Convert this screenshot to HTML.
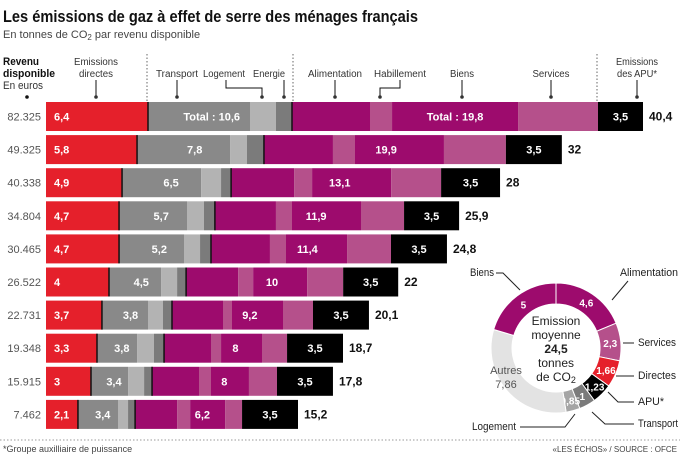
<!DOCTYPE html>
<html><head><meta charset="utf-8"><style>
body{margin:0;background:#fff;}
svg{display:block;font-family:"Liberation Sans",Arial,sans-serif;}
</style></head><body>
<svg id="c" width="680" height="455" viewBox="0 0 680 455">
<text x="3" y="22" font-size="17" font-weight="bold" fill="#111" textLength="415" lengthAdjust="spacingAndGlyphs">Les émissions de gaz à effet de serre des ménages français</text>
<text x="3" y="38" font-size="11" fill="#444">En tonnes de CO<tspan font-size="8" dy="2">2</tspan><tspan dy="-2"> par revenu disponible</tspan></text>
<g font-size="10" fill="#333">
<text x="3" y="65" font-weight="bold" font-size="11" fill="#111" textLength="36" lengthAdjust="spacingAndGlyphs">Revenu</text>
<text x="3" y="77" font-weight="bold" font-size="11" fill="#111" textLength="52" lengthAdjust="spacingAndGlyphs">disponible</text>
<text x="3" y="89" font-size="11" textLength="40" lengthAdjust="spacingAndGlyphs">En euros</text>
<circle cx="27" cy="97" r="1.8" fill="#111"/>
<text x="96" y="65" text-anchor="middle" textLength="44" lengthAdjust="spacingAndGlyphs">Emissions</text><text x="96" y="77" text-anchor="middle" textLength="34" lengthAdjust="spacingAndGlyphs">directes</text>
<line x1="96" y1="80" x2="96" y2="97" stroke="#111"/><circle cx="96" cy="97" r="1.8"/>
<text x="177" y="77" text-anchor="middle" textLength="42" lengthAdjust="spacingAndGlyphs">Transport</text>
<line x1="177" y1="80" x2="177" y2="97" stroke="#111"/><circle cx="177" cy="97" r="1.8"/>
<text x="224" y="77" text-anchor="middle" textLength="42" lengthAdjust="spacingAndGlyphs">Logement</text>
<polyline points="226,80 226,88 262,88 262,97" fill="none" stroke="#111"/><circle cx="262" cy="97" r="1.8"/>
<text x="269" y="77" text-anchor="middle" textLength="32" lengthAdjust="spacingAndGlyphs">Energie</text>
<line x1="284" y1="80" x2="284" y2="97" stroke="#111"/><circle cx="284" cy="97" r="1.8"/>
<text x="335" y="77" text-anchor="middle" textLength="54" lengthAdjust="spacingAndGlyphs">Alimentation</text>
<line x1="335" y1="80" x2="335" y2="97" stroke="#111"/><circle cx="335" cy="97" r="1.8"/>
<text x="400" y="77" text-anchor="middle" textLength="52" lengthAdjust="spacingAndGlyphs">Habillement</text>
<polyline points="400,80 400,88 380,88 380,97" fill="none" stroke="#111"/><circle cx="380" cy="97" r="1.8"/>
<text x="462" y="77" text-anchor="middle" textLength="24" lengthAdjust="spacingAndGlyphs">Biens</text>
<line x1="462" y1="80" x2="462" y2="97" stroke="#111"/><circle cx="462" cy="97" r="1.8"/>
<text x="551" y="77" text-anchor="middle" textLength="37" lengthAdjust="spacingAndGlyphs">Services</text>
<line x1="551" y1="80" x2="551" y2="97" stroke="#111"/><circle cx="551" cy="97" r="1.8"/>
<text x="637" y="65" text-anchor="middle" textLength="42" lengthAdjust="spacingAndGlyphs">Emissions</text><text x="637" y="77" text-anchor="middle" textLength="40" lengthAdjust="spacingAndGlyphs">des APU*</text>
<line x1="637" y1="80" x2="637" y2="97" stroke="#111"/><circle cx="637" cy="97" r="1.8"/>
<g stroke="#666" stroke-dasharray="1.5,2"><line x1="147" y1="54" x2="147" y2="101"/><line x1="293" y1="54" x2="293" y2="101"/><line x1="597" y1="54" x2="597" y2="101"/></g>
</g>
<g id="bars"></g>
<g id="donut"></g>
<line x1="0" y1="440" x2="680" y2="440" stroke="#999" stroke-dasharray="1.5,2"/>
<text x="3" y="452" font-size="9" fill="#444">*Groupe auxilliaire de puissance</text>
<text x="677" y="452" font-size="8" fill="#444" text-anchor="end">«LES ÉCHOS» / SOURCE : OFCE</text>
</svg>
<script>
const incomes=["82.325","49.325","40.338","34.804","30.465","26.522","22.731","19.348","15.915","7.462"];
const directes=[6.8,6.07,5.07,4.87,4.87,4.2,3.73,3.4,3,2.13];
const transport=[6.8,6.2,5.27,4.53,4.33,3.47,3.07,2.67,2.47,2.67];
const logement=[1.73,1.13,1.33,1.13,1.07,1.07,1,1.13,1.07,0.67];
const energie=[1.07,1.13,0.67,0.73,0.73,0.6,0.6,0.67,0.53,0.47];
const alimentation=[5.2,4.6,4.2,4.07,3.93,3.47,3.4,3.13,3.13,2.8];
const habillement=[1.47,1.47,1.2,1.07,1.07,1,0.6,0.67,0.8,0.87];
const biens=[8.4,5.93,5.27,4.6,4.07,3.6,3.4,2.73,2.53,2.33];
const services=[5.33,4.13,3.33,2.87,2.93,2.4,2,1.67,1.87,1.13];
const apu=[3.0,3.73,3.93,3.67,3.73,3.67,3.73,3.73,3.73,3.73];
const labDirect=["6,4","5,8","4,9","4,7","4,7","4","3,7","3,3","3","2,1"];
const labTransport=["Total : 10,6","7,8","6,5","5,7","5,2","4,5","3,8","3,8","3,4","3,4"];
const labBiens=["Total : 19,8","19,9","13,1","11,9","11,4","10","9,2","8","8","6,2"];
const labApu=["3,5","3,5","3,5","3,5","3,5","3,5","3,5","3,5","3,5","3,5"];
const labTotal=["40,4","32","28","25,9","24,8","22","20,1","18,7","17,8","15,2"];
const donutNames=["Alimentation","Services","Directes","APU*","Transport","Logement","Autres","Biens"];
const donutValues=[4.6,2.3,1.66,1.23,1,0.85,7.86,5];
const donutLabels=["4,6","2,3","1,66","1,23","1","0,85","","5"];

const NS="http://www.w3.org/2000/svg";
function mk(tag,attrs,parent,txt){const e=document.createElementNS(NS,tag);for(const k in attrs)e.setAttribute(k,attrs[k]);if(txt!==undefined)e.textContent=txt;parent.appendChild(e);return e;}
const x0=46, unit=15, rowTop=i=>102+i*33.1, bh=29;
const xs=v=>v*unit;
const segs=[directes,transport,logement,energie,alimentation,habillement,biens,services,apu];
const segNames=["directes","transport","logement","energie","alimentation","habillement","biens","services","apu"];
const cols=["#e5202b","#898989","#b3b3b3","#7b7b7b","#9d0b6d","#b5508b","#9d0b6d","#b5508b","#000"];
const bars=document.getElementById('bars');
for(let i=0;i<incomes.length;i++){
  const g=mk('g',{},bars);
  
  
  const y=rowTop(i);
  const t=mk('text',{x:41,y:y+bh/2+4,'font-size':11,fill:'#555','text-anchor':'end'},g,incomes[i]);
  
  
  let x=x0; const starts=[];
  for(let s=0;s<segs.length;s++){
    const w=xs(segs[s][i]); starts.push(x);
    const r=mk('rect',{x:x,y:y,width:w,height:bh,fill:cols[s]},g);
    
    
    x+=w;
  }
  [starts[1],starts[4]].forEach(sx=>{const l=mk('line',{x1:sx,y1:y,x2:sx,y2:y+bh,stroke:'#111','stroke-width':1.5},g);
    
    });
  const ty=y+bh/2+4;
  const a=mk('text',{x:x0+8,y:ty,'font-size':11,'font-weight':'bold',fill:'#fff'},g,labDirect[i]);
  
  
  const tw=xs(transport[i]);
  const b= i===0 ? mk('text',{x:starts[1]+tw-10,y:ty,'font-size':11,'font-weight':'bold',fill:'#fff','text-anchor':'end'},g,labTransport[i])
                 : mk('text',{x:starts[1]+tw*0.62,y:ty,'font-size':11,'font-weight':'bold',fill:'#fff','text-anchor':'middle'},g,labTransport[i]);
  
  
  const bw=xs(biens[i]);
  const c=mk('text',{x: i===0?starts[6]+bw/2:starts[6]+bw*0.35,y:ty,'font-size':11,'font-weight':'bold',fill:'#fff','text-anchor':'middle'},g,labBiens[i]);
  
  
  const d=mk('text',{x:starts[8]+xs(apu[i])/2,y:ty,'font-size':11,'font-weight':'bold',fill:'#fff','text-anchor':'middle'},g,labApu[i]);
  
  
  const e=mk('text',{x:x+6,y:ty,'font-size':12,'font-weight':'bold',fill:'#111'},g,labTotal[i]);
  
  
}
// donut
const dg=document.getElementById('donut');


const cx=556,cy=348,R=65,r=44;
const dcols=["#9d0b6d","#b5508b","#e5202b","#000","#7b7b7b","#a5a5a5","#e3e3e3","#9d0b6d"];
const tot=donutValues.reduce((a,b)=>a+b,0);
const pt=(ang,rad)=>[cx+rad*Math.sin(ang),cy-rad*Math.cos(ang)];
let ang=0;
for(let k=0;k<donutValues.length;k++){
  const a1=ang,a2=ang+donutValues[k]/tot*2*Math.PI; ang=a2;
  const large=(a2-a1)>Math.PI?1:0;
  const p1=pt(a1,R),p2=pt(a2,R),p3=pt(a2,r),p4=pt(a1,r);
  const p=mk('path',{d:`M${p1} A${R},${R} 0 ${large} 1 ${p2} L${p3} A${r},${r} 0 ${large} 0 ${p4}Z`,fill:dcols[k],stroke:'#fff','stroke-width':1},dg);
  
  
  const m=(a1+a2)/2, lp=pt(m,(R+r)/2);
  const lbl=donutLabels[k];
  if(lbl){const t=mk('text',{x:lp[0],y:lp[1]+4,'font-size':10,'font-weight':'bold',fill:'#fff','text-anchor':'middle'},dg,lbl);
    
    }
}
const ct=[["Emission",325,false],["moyenne",339,false],["24,5",353,true],["tonnes",367,false]];
ct.forEach(c=>{const t=mk('text',{x:cx,y:c[1],'font-size':12,'font-weight':c[2]?'bold':'normal',fill:'#222','text-anchor':'middle'},dg,c[0]);
  
  });
const co=mk('text',{x:cx,y:381,'font-size':12,fill:'#222','text-anchor':'middle'},dg,'de CO');


mk('tspan',{'font-size':9,dy:2},co,'2');
const callouts=[["Biens",470,276,"start",24,"496,273 503,273 520,290"],["Alimentation",678,276,"end",58,"628,281 612,300"],["Services",638,346,"start",38,"623,343 634,343"],["Directes",638,379,"start",38,"616,376 634,376"],["APU*",638,405,"start",26,"608,392 618,402 634,402"],["Transport",638,427,"start",40,"592,412 605,424 634,424"],["Logement",472,430,"start",44,"520,427 565,427 575,414"]];
callouts.forEach(c=>{
  const t=mk('text',{x:c[1],y:c[2],'font-size':11,fill:'#222','text-anchor':c[3],textLength:c[4],lengthAdjust:'spacingAndGlyphs'},dg,c[0]);
  
  
  const l=mk('polyline',{points:c[5],fill:'none',stroke:'#222','stroke-width':1},dg);
  
  
});
[["Autres",374],["7,86",388]].forEach(c=>{const t=mk('text',{x:506,y:c[1],'font-size':11,fill:'#555','text-anchor':'middle'},dg,c[0]);
  
  });
</script>
</body></html>
